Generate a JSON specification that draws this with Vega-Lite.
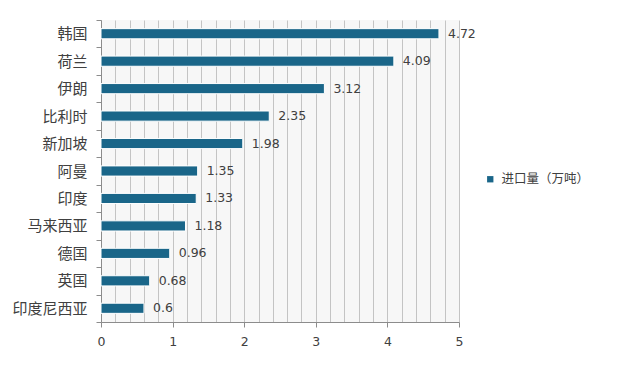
{
  "$schema": "https://vega.github.io/schema/vega-lite/v6.json",
  "width": 358,
  "height": 302,
  "autosize": {"type": "none"},
  "padding": {"left": 101, "top": 20, "right": 162, "bottom": 45},
  "background": "white",
  "data": {
    "values": [
      {"country": "韩国", "value": 4.72, "series": "进口量（万吨）"},
      {"country": "荷兰", "value": 4.09, "series": "进口量（万吨）"},
      {"country": "伊朗", "value": 3.12, "series": "进口量（万吨）"},
      {"country": "比利时", "value": 2.35, "series": "进口量（万吨）"},
      {"country": "新加坡", "value": 1.98, "series": "进口量（万吨）"},
      {"country": "阿曼", "value": 1.35, "series": "进口量（万吨）"},
      {"country": "印度", "value": 1.33, "series": "进口量（万吨）"},
      {"country": "马来西亚", "value": 1.18, "series": "进口量（万吨）"},
      {"country": "德国", "value": 0.96, "series": "进口量（万吨）"},
      {"country": "英国", "value": 0.68, "series": "进口量（万吨）"},
      {"country": "印度尼西亚", "value": 0.6, "series": "进口量（万吨）"}
    ]
  },
  "encoding": {
    "y": {
      "field": "country",
      "type": "nominal",
      "sort": {"field": "value", "order": "descending"},
      "scale": {"paddingInner": 0, "paddingOuter": 0},
      "axis": {
        "title": null,
        "tickBand": "extent",
        "grid": false,
        "domainColor": "#8c8c8c",
        "tickColor": "#8c8c8c",
        "tickSize": 5,
        "labelPadding": 9,
        "labelFont": "Noto Sans CJK SC",
        "labelFontSize": 15,
        "labelColor": "#404040"
      }
    },
    "x": {
      "field": "value",
      "type": "quantitative",
      "scale": {"domain": [0, 5], "nice": false},
      "axis": {
        "title": null,
        "values": [0, 0.2, 0.4, 0.6, 0.8, 1, 1.2, 1.4, 1.6, 1.8, 2, 2.2, 2.4, 2.6, 2.8, 3, 3.2, 3.4, 3.6, 3.8, 4, 4.2, 4.4, 4.6, 4.8, 5],
        "labelExpr": "datum.value % 1 === 0 ? format(datum.value, 'd') : ''",
        "labelFlush": false,
        "labelOverlap": false,
        "grid": true,
        "gridColor": "#c4c4c4",
        "gridWidth": 1,
        "tickOpacity": {"condition": {"test": "datum.value % 1 === 0", "value": 1}, "value": 0},
        "tickColor": "#8c8c8c",
        "tickSize": 5,
        "domainColor": "#8c8c8c",
        "labelPadding": 8,
        "labelFont": "DejaVu Sans",
        "labelFontSize": 12.5,
        "labelColor": "#404040"
      }
    }
  },
  "layer": [
    {
      "mark": {"type": "bar", "stroke": "white", "strokeWidth": 1, "height": {"band": 0.37}},
      "encoding": {
        "color": {
          "field": "series",
          "type": "nominal",
          "scale": {"range": ["#1a6689"]},
          "legend": {
            "title": null,
            "orient": "none",
            "legendX": 383,
            "legendY": 153,
            "padding": 0,
            "symbolType": "square",
            "symbolSize": 40,
            "symbolStrokeWidth": 0,
            "labelFont": "Noto Sans CJK SC",
            "labelFontSize": 12.5,
            "labelColor": "#404040",
            "labelOffset": 5
          }
        }
      }
    },
    {
      "mark": {"type": "text", "align": "left", "dx": 9, "font": "DejaVu Sans", "fontSize": 12.5, "color": "#404040"},
      "encoding": {"text": {"field": "value", "type": "quantitative"}}
    }
  ],
  "config": {
    "view": {"fill": "#f7f7f7", "stroke": null}
  }
}
